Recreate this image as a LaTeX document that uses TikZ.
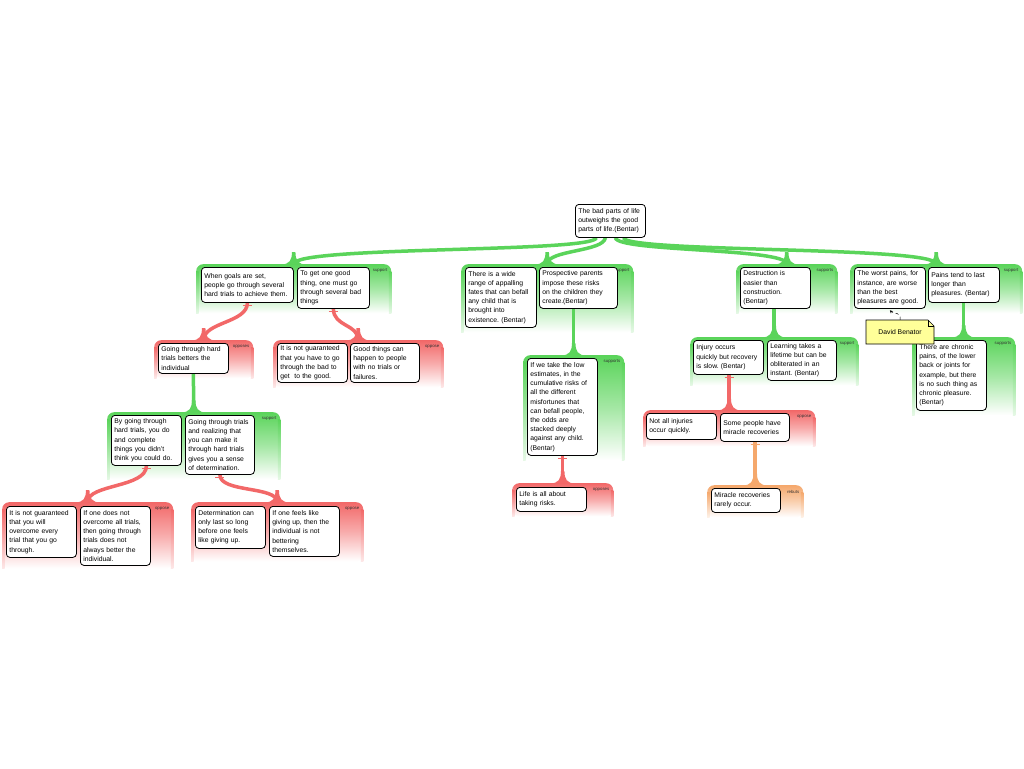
\documentclass[tikz,border=0pt]{standalone}
\usepackage{fontspec}
\setmainfont{Liberation Sans}
\usetikzlibrary{arrows.meta,calc}
\definecolor{supc}{RGB}{90,212,90}
\definecolor{oppc}{RGB}{242,104,104}
\definecolor{rebc}{RGB}{245,168,108}
\definecolor{notec}{RGB}{255,255,153}
\pgfdeclarelayer{bg}
\pgfdeclarelayer{mid}
\pgfsetlayers{bg,mid,main}
\tikzset{
  abox/.style={draw=black, line width=0.8pt, fill=white, rounded corners=3.5pt,
    align=left, anchor=north west, inner xsep=3pt, inner ysep=0pt,
    font=\fontsize{6.8}{9.2}\selectfont\frenchspacing},
  grp/.style={anchor=north west, inner sep=0pt, rounded corners=7pt,
    top color=#1, bottom color=white, middle color=#1!55},
  glabel/.style={anchor=north east, inner sep=0pt, text=black!80, font=\fontsize{4.3}{4.3}\selectfont},
  link/.style={line width=3.5pt, draw=#1},
  tbar/.style={line width=1.2pt, draw=#1},
}
\newcommand\argbox[5]{\node[abox, text width=#3, minimum height=#4] (#1) at (#2) {#5};}
\newcommand\arggrp[6]{%
  \node[grp=#5, minimum width=#3, minimum height=#4] (#1) at (#2) {};
  \shade[top color=#5, bottom color=#5!15] ([yshift=-7pt]#1.north west) rectangle ([xshift=2.5pt]#1.south west);
  \shade[top color=#5, bottom color=#5!15] ([yshift=-7pt]#1.north east) rectangle ([xshift=-2.5pt]#1.south east);
  \node[glabel] (#1lab) at ([xshift=-4pt,yshift=-5pt]#1.north east) {#6};}
\newcommand\flare[2]{\begin{scope}[shift={(#1)}]
  \fill[#2] (-13,0.5) .. controls (-4,0.5) and (-1.75,-4) .. (-1.75,-12) -- (1.75,-12) .. controls (1.75,-4) and (4,0.5) .. (13,0.5) -- cycle;
  \end{scope}}
\newcommand\tmark[2]{\draw[tbar=#2] ([xshift=-4.5pt,yshift=-2.5pt]#1) -- ([xshift=4.5pt,yshift=-2.5pt]#1);}
\begin{document}
\begin{tikzpicture}[x=1pt,y=-1pt]
\begin{pgfonlayer}{bg}
\fill[white] (0,0) rectangle (1024,768);
\end{pgfonlayer}
\useasboundingbox (0,0) rectangle (1024,768);

% ---------- argument boxes ----------
\argbox{root}{575,204}{64pt}{33pt}{The bad parts of life\\outweighs the good\\parts of life.(Bentar)}
\argbox{A1}{201,267}{86pt}{35pt}{When goals are set,\\people go through several\\hard trials to achieve them.}
\argbox{A2}{297,267}{66pt}{41pt}{To get one good\\thing, one must go\\through several bad\\things}
\argbox{B1}{465,267}{65pt}{60pt}{There is a wide\\range of appalling\\fates that can befall\\any child that is\\brought into\\existence. (Bentar)}
\argbox{B2}{539,267}{72pt}{41pt}{Prospective parents\\impose these risks\\on the children they\\create.(Bentar)}
\argbox{C1}{740,267}{64pt}{41pt}{Destruction is\\easier than\\construction.\\(Bentar)}
\argbox{D1}{854,267}{65pt}{41pt}{The worst pains, for\\instance, are worse\\than the best\\pleasures are good.}
\argbox{D2}{928,267}{65pt}{35pt}{Pains tend to last\\longer than\\pleasures. (Bentar)}
\argbox{E1}{158,343}{64pt}{30pt}{Going through hard\\trials betters the\\individual}
\argbox{F1}{277,343}{64pt}{39pt}{It is not guaranteed\\that you have to go\\through the bad to\\get\ \ to the good.}
\argbox{F2}{350,343}{63pt}{39pt}{Good things can\\happen to people\\with no trials or\\failures.}
\argbox{G1}{111,415}{64pt}{50pt}{By going through\\hard trials, you do\\and complete\\things you didn't\\think you could do.}
\argbox{G2}{185,415}{63pt}{59pt}{Going through trials\\and realizing that\\you can make it\\through hard trials\\gives you a sense\\of determination.}
\argbox{H1}{6,506}{64pt}{51pt}{It is not guaranteed\\that you will\\overcome every\\trial that you go\\through.}
\argbox{H2}{80,506}{64pt}{59pt}{If one does not\\overcome all trials,\\then going through\\trials does not\\always better the\\individual.}
\argbox{I1}{195,506}{64pt}{42pt}{Determination can\\only last so long\\before one feels\\like giving up.}
\argbox{I2}{269,506}{64pt}{50pt}{If one feels like\\giving up, then the\\individual is not\\bettering\\themselves.}
\argbox{J1}{527,358}{64pt}{97pt}{If we take the low\\estimates, in the\\cumulative risks of\\all the different\\misfortunes that\\can befall people,\\the odds are\\stacked deeply\\against any child.\\(Bentar)}
\argbox{K1}{516,487}{64pt}{24pt}{Life is all about\\taking risks.}
\argbox{L1}{693,340}{64pt}{34pt}{Injury occurs\\quickly but recovery\\is slow. (Bentar)}
\argbox{L2}{767,340}{63pt}{40pt}{Learning takes a\\lifetime but can be\\obliterated in an\\instant. (Bentar)}
\argbox{M1}{646,413}{64pt}{26pt}{Not all injuries\\occur quickly.}
\argbox{M2}{720,413}{63pt}{28pt}{Some people have\\miracle recoveries}
\argbox{N1}{711,488}{63pt}{24pt}{Miracle recoveries\\rarely occur.}
\argbox{O1}{916,340}{64pt}{70pt}{There are chronic\\pains, of the lower\\back or joints for\\example, but there\\is no such thing as\\chronic pleasure.\\(Bentar)}

% ---------- David Benatar note ----------
\draw[fill=notec, line width=0.6pt] (866,320) -- (928,320) -- (934,326) -- (934,344) -- (866,344) -- cycle;
\draw[line width=0.6pt] (928,320) -- (928,326) -- (934,326);
\node[inner sep=0pt, minimum width=68pt, minimum height=24pt, font=\fontsize{6.8}{8}\selectfont] (note) at (900,332) {David Benator};
\draw[line width=0.5pt, dashed, -{Stealth[length=3pt,width=3pt]}] (note.north) .. controls +(1,-9) and +(5,5) .. ([yshift=-1.5pt]D1.south);

% ---------- groups (backgrounds) ----------
\begin{pgfonlayer}{bg}
\arggrp{g1}{196,264}{195pt}{49pt}{supc}{support}
\arggrp{g2}{461,264}{172pt}{68pt}{supc}{support}
\arggrp{g3}{736,264}{101pt}{49pt}{supc}{supports}
\arggrp{g4}{850,264}{172pt}{49pt}{supc}{support}
\arggrp{gE}{154,340}{99pt}{38pt}{oppc}{opposes}
\arggrp{gF}{273,340}{170pt}{47pt}{oppc}{oppose}
\arggrp{gG}{107,412}{173pt}{67pt}{supc}{support}
\arggrp{gH}{2,502}{171pt}{66pt}{oppc}{oppose}
\arggrp{gI}{191,502}{172pt}{59pt}{oppc}{oppose}
\arggrp{gJ}{523,355}{101pt}{105pt}{supc}{supports}
\arggrp{gK}{512,483}{101pt}{33pt}{oppc}{opposes}
\arggrp{gL}{690,337}{168pt}{48pt}{supc}{support}
\arggrp{gM}{643,410}{172pt}{36pt}{oppc}{oppose}
\arggrp{gN}{707,485}{96pt}{32pt}{rebc}{rebuts}
\arggrp{gO}{912,337}{103pt}{78pt}{supc}{supports}
\end{pgfonlayer}

% ---------- connectors ----------
\begin{pgfonlayer}{mid}
\draw[link=supc] ([xshift=-14pt]root.south) .. controls +(-3,15) and +(0,-18) .. (g1.north);
\draw[link=supc] ([xshift=-5pt]root.south) .. controls +(-2,14) and +(0,-14) .. (g2.north);
\draw[link=supc] ([xshift=5pt]root.south) .. controls +(2,14) and +(0,-16) .. (g3.north);
\draw[link=supc] ([xshift=13pt]root.south) .. controls +(3,15) and +(0,-18) .. (g4.north);
\flare{g1.north}{supc}\flare{g2.north}{supc}\flare{g3.north}{supc}\flare{g4.north}{supc}

\draw[link=oppc] (A1.south) .. controls +(0,20) and +(0,-18) .. (gE.north);
\draw[link=oppc] (A2.south) .. controls +(0,18) and +(0,-16) .. (gF.north);
\flare{gE.north}{oppc}\flare{gF.north}{oppc}

\draw[link=supc] (E1.south) -- (gG.north);
\flare{gG.north}{supc}

\draw[link=oppc] (G1.south) .. controls +(0,22) and +(0,-18) .. (gH.north);
\draw[link=oppc] (G2.south) .. controls +(0,18) and +(0,-16) .. (gI.north);
\flare{gH.north}{oppc}\flare{gI.north}{oppc}

\draw[link=supc] (gJ.north |- B2.south) -- (gJ.north);
\flare{gJ.north}{supc}
\draw[link=oppc] (gK.north |- J1.south) -- (gK.north);
\flare{gK.north}{oppc}

\draw[link=supc] (gL.north |- C1.south) -- (gL.north);
\flare{gL.north}{supc}
\draw[link=oppc] (gM.north |- L1.south) -- (gM.north);
\flare{gM.north}{oppc}
\draw[link=rebc] (gN.north |- M2.south) -- (gN.north);
\flare{gN.north}{rebc}

\draw[link=supc] (gO.north |- D2.south) -- (gO.north);
\flare{gO.north}{supc}
\end{pgfonlayer}

% ---------- T markers ----------
\tmark{A1.south}{oppc}
\tmark{A2.south}{oppc}
\tmark{G1.south}{oppc}
\tmark{G2.south}{oppc}
\tmark{gK.north |- J1.south}{oppc}
\tmark{gM.north |- L1.south}{oppc}
\tmark{gN.north |- M2.south}{rebc}
\end{tikzpicture}
\end{document}
